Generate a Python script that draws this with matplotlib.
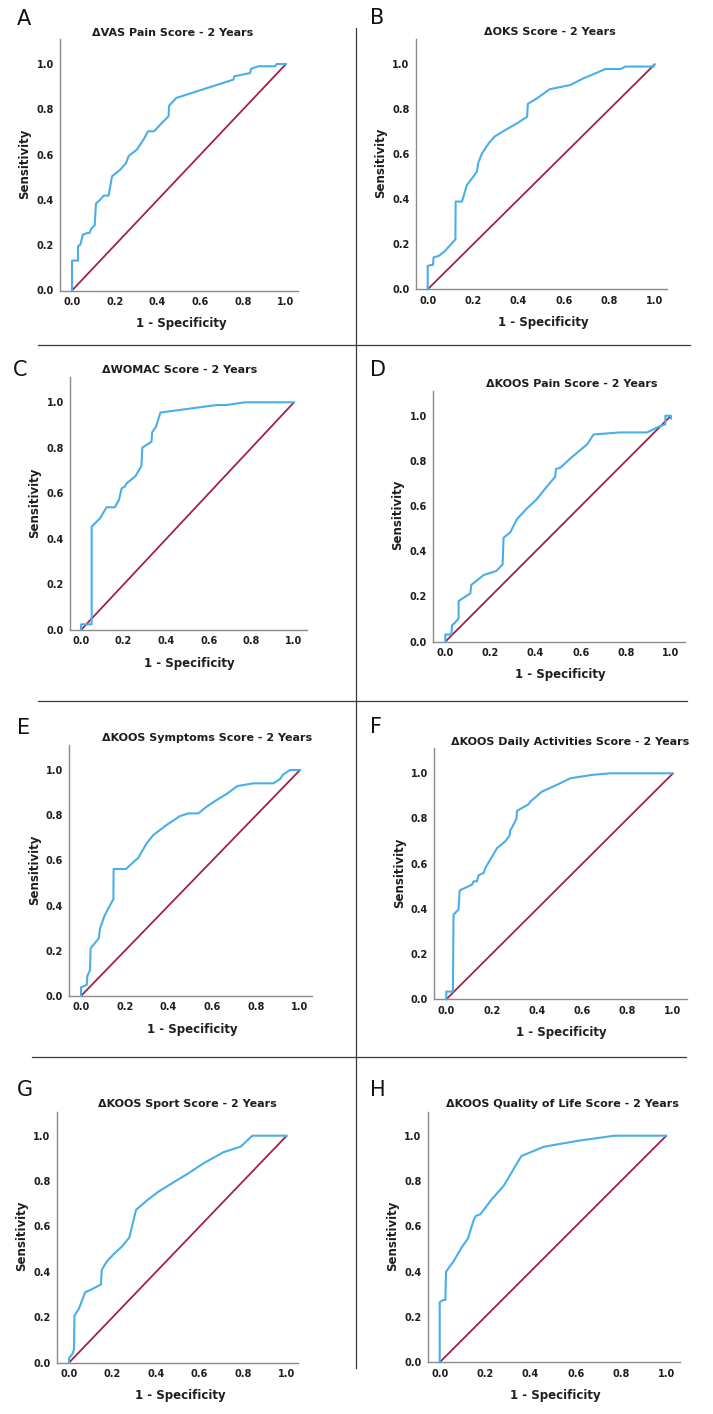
import matplotlib
matplotlib.use("Agg")
import matplotlib.pyplot as plt
from matplotlib.lines import Line2D

# ---------------- data ----------------
letters = ["A", "B", "C", "D", "E", "F", "G", "H"]
titles = [
    "\u0394VAS Pain Score - 2 Years",
    "\u0394OKS Score - 2 Years",
    "\u0394WOMAC Score - 2 Years",
    "\u0394KOOS Pain Score - 2 Years",
    "\u0394KOOS Symptoms Score - 2 Years",
    "\u0394KOOS Daily Activities Score - 2 Years",
    "\u0394KOOS Sport Score - 2 Years",
    "\u0394KOOS Quality of Life Score - 2 Years",
]
tick_values = [0.0, 0.2, 0.4, 0.6, 0.8, 1.0]
tick_labels = ["0.0", "0.2", "0.4", "0.6", "0.8", "1.0"]
x_label = "1 - Specificity"
y_label = "Sensitivity"

vas_fpr = [0, 0, .028, .028, .039, .051, .073, .082, .089, .106, .112, .132, .148, .171, .187, .226, .253, .264,
           .303, .334, .355, .384, .420, .451, .454, .487, .754, .759, .832, .837, .871, .949, .956, 1.0]
vas_tpr = [0, .132, .132, .196, .203, .247, .254, .254, .272, .288, .384, .401, .419, .419, .504, .534, .563, .593,
           .622, .666, .703, .703, .740, .769, .816, .850, .931, .946, .960, .979, .990, .990, 1.0, 1.0]

oks_fpr = [0, 0, .015, .023, .026, .048, .073, .100, .122, .123, .151, .173, .195, .217, .222, .239, .269, .295,
           .342, .394, .438, .441, .482, .537, .628, .687, .739, .783, .849, .871, .995, 1.0]
oks_tpr = [0, .104, .108, .108, .142, .148, .167, .197, .222, .390, .390, .464, .493, .523, .560, .604, .649, .679,
           .708, .738, .767, .824, .849, .889, .908, .938, .960, .979, .979, .990, .990, 1.0]

womac_fpr = [0, 0, .050, .050, .089, .120, .159, .178, .191, .206, .214, .256, .277, .284, .288, .308, .331, .334,
             .352, .373, .636, .683, .769, 1.0]
womac_tpr = [0, .025, .025, .454, .490, .539, .539, .571, .622, .630, .644, .676, .710, .722, .801, .813, .827, .868,
             .893, .955, .988, .988, 1.0, 1.0]

kpain_fpr = [0, 0, .027, .030, .040, .059, .059, .111, .115, .170, .226, .254, .258, .288, .318, .362, .406, .443,
             .487, .490, .510, .554, .628, .657, .775, .894, .945, .975, .975, 1.0, 1.0]
kpain_tpr = [0, .032, .032, .074, .081, .103, .180, .214, .251, .295, .313, .342, .460, .484, .543, .590, .631, .678,
             .730, .764, .770, .811, .873, .917, .926, .926, .951, .962, 1.0, 1.0, .988]

ksym_fpr = [0, 0, .014, .026, .029, .041, .044, .081, .087, .107, .125, .148, .149, .205, .262, .300, .330, .391,
            .452, .490, .536, .574, .619, .665, .714, .787, .878, .909, .921, .954, 1.0]
ksym_tpr = [0, .038, .044, .049, .088, .115, .211, .255, .299, .354, .388, .429, .562, .562, .612, .676, .712, .757,
            .796, .808, .808, .838, .867, .894, .929, .941, .941, .960, .978, 1.0, 1.0]

kadl_fpr = [0, 0, .029, .032, .054, .059, .113, .121, .135, .143, .165, .172, .224, .260, .279, .282, .309, .312,
            .363, .371, .422, .488, .547, .643, .724, 1.0]
kadl_tpr = [0, .034, .034, .375, .397, .482, .507, .522, .522, .549, .559, .581, .669, .699, .724, .746, .797, .834,
            .863, .875, .919, .949, .978, .993, 1.0, 1.0]

ksport_fpr = [0, 0, .017, .023, .025, .046, .074, .104, .147, .150, .173, .204, .242, .277, .308, .357, .410, .479,
              .548, .617, .709, .789, .842, 1.0]
ksport_tpr = [0, .019, .041, .060, .207, .239, .310, .323, .345, .408, .445, .477, .511, .551, .673, .714, .753, .794,
              .834, .878, .927, .952, 1.0, 1.0]

kqol_fpr = [0, 0, .015, .025, .028, .062, .099, .125, .150, .160, .179, .231, .282, .360, .459, .613, .771, 1.0]
kqol_tpr = [0, .265, .275, .275, .400, .447, .510, .547, .628, .646, .653, .721, .778, .910, .951, .978, 1.0, 1.0]

curves_fpr = [vas_fpr, oks_fpr, womac_fpr, kpain_fpr, ksym_fpr, kadl_fpr, ksport_fpr, kqol_fpr]
curves_tpr = [vas_tpr, oks_tpr, womac_tpr, kpain_tpr, ksym_tpr, kadl_tpr, ksport_tpr, kqol_tpr]
ref_line = [0.0, 1.0]

# ---------------- layout (pixels) ----------------
W, H = 713, 1414
# spine_left, spine_right, top, bottom(x-axis), px of x=0, px of x=1, px of y=1
layout = [
    (60.0, 298.0, 39.0, 290.5, 72.0, 286.0, 64.0),
    (415.7, 667.0, 39.0, 289.3, 427.7, 654.7, 64.3),
    (70.0, 307.0, 377.0, 630.0, 81.0, 294.0, 402.3),
    (433.0, 685.0, 390.7, 641.7, 445.3, 671.0, 415.7),
    (69.3, 311.7, 745.0, 996.0, 81.0, 300.0, 770.0),
    (434.3, 687.0, 748.0, 999.3, 446.3, 673.0, 773.3),
    (56.7, 298.3, 1111.7, 1362.7, 69.0, 286.7, 1135.7),
    (427.7, 679.7, 1111.7, 1362.3, 439.7, 666.3, 1135.7),
]
title_pos = [(173, 33), (550, 32), (180, 370), (572, 384), (207, 738), (570, 742), (187, 1104), (562, 1104)]
letter_pos = [(17, 19), (370, 18), (13, 370), (370, 370), (17, 728), (370, 727), (17, 1090), (370, 1090)]

BLUE = "#4AAEE8"
RED = "#A3204F"
SPINE = "#8a8a8a"
TXT = "#1e1e1e"

plt.rcParams["font.family"] = ["DejaVu Sans"]
fig = plt.figure(figsize=(W / 100, H / 100), dpi=100)
fig.patch.set_facecolor("white")


def fx(px):
    return px / W


def fy(py):
    return 1 - py / H


for i in range(8):
    L, R, T, B, x0, x1, y1 = layout[i]
    ax = fig.add_axes([fx(L), fy(B), (R - L) / W, (B - T) / H])
    ppx = x1 - x0
    ppy = B - y1
    ax.set_xlim((L - x0) / ppx, (R - x0) / ppx)
    ax.set_ylim(0, (B - T) / ppy)
    ax.plot(ref_line, ref_line, color=RED, lw=1.3, solid_capstyle="butt", zorder=2)
    ax.plot(curves_fpr[i], curves_tpr[i], color=BLUE, lw=1.5, zorder=3, clip_on=False)
    for s in ["top", "right"]:
        ax.spines[s].set_visible(False)
    for s in ["left", "bottom"]:
        ax.spines[s].set_color(SPINE)
        ax.spines[s].set_linewidth(1.0)
    ax.set_xticks(tick_values)
    ax.set_xticklabels(tick_labels)
    ax.set_yticks(tick_values)
    ax.set_yticklabels(tick_labels)
    ax.tick_params(length=0, labelsize=7, pad=4.5, labelcolor=TXT)
    for lab in ax.get_xticklabels() + ax.get_yticklabels():
        lab.set_fontweight("bold")
    ax.set_facecolor("none")

    # axis labels
    fig.text(fx((x0 + x1) / 2 + 2), fy(B + 33), x_label, ha="center", va="center",
             fontsize=8.5, fontweight="bold", color=TXT)
    fig.text(fx(L - 35), fy((B + T) / 2 - 1), y_label, ha="center", va="center", rotation=90,
             fontsize=8.5, fontweight="bold", color=TXT)
    # title
    tx, ty = title_pos[i]
    fig.text(fx(tx), fy(ty), titles[i], ha="center", va="center", fontsize=8,
             fontweight="bold", color=TXT)
    # panel letter
    lx, ly = letter_pos[i]
    fig.text(fx(lx), fy(ly), letters[i], ha="left", va="center", fontsize=15, color="#111111")

# separator lines
sep_color = "#3a3a3a"
fig.add_artist(Line2D([fx(38), fx(690)], [fy(345), fy(345)], color=sep_color, lw=0.9))
fig.add_artist(Line2D([fx(38), fx(687)], [fy(701), fy(701)], color=sep_color, lw=0.9))
fig.add_artist(Line2D([fx(32), fx(686)], [fy(1057), fy(1057)], color=sep_color, lw=0.9))
fig.add_artist(Line2D([fx(356), fx(356)], [fy(28), fy(1368)], color=sep_color, lw=0.9))

fig.savefig("out.png", dpi=100, facecolor="white")
